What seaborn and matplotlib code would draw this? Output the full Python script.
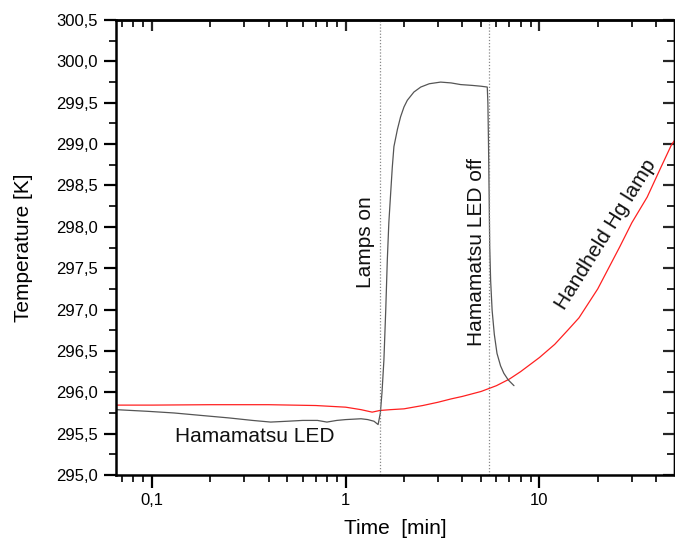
import matplotlib
matplotlib.use("Agg")
import matplotlib.pyplot as plt
import matplotlib.ticker as mticker
import numpy as np
import pandas as pd
import seaborn as sns

# ---- data ----
hg_time = [0.0653, 0.1, 0.2, 0.4, 0.7, 1.0, 1.2, 1.37, 1.5, 1.7, 2.0, 2.5, 3.0,
           3.5, 4.0, 5.0, 6.0, 7.0, 8.0, 10.0, 12.0, 14.0, 16.0, 20.0, 26.0,
           30.0, 36.0, 42.0, 48.0, 50.0]
hg_temp = [295.845, 295.845, 295.85, 295.85, 295.84, 295.82, 295.79, 295.76,
           295.78, 295.79, 295.80, 295.84, 295.88, 295.92, 295.95, 296.01,
           296.08, 296.16, 296.25, 296.42, 296.58, 296.75, 296.90, 297.25,
           297.76, 298.05, 298.36, 298.70, 298.99, 299.05]

led_time = [0.0653, 0.095, 0.13, 0.18, 0.25, 0.33, 0.41, 0.5, 0.6, 0.715, 0.8,
            0.9, 1.0, 1.2, 1.3, 1.4, 1.47, 1.51, 1.54, 1.575, 1.61, 1.64, 1.67,
            1.706, 1.74, 1.774, 1.85, 1.92, 2.0, 2.08, 2.25, 2.44, 2.7, 3.09,
            3.5, 3.92, 4.5, 5.0, 5.38, 5.42, 5.46, 5.50, 5.54, 5.60, 5.70,
            5.85, 6.04, 6.3, 6.55, 6.9, 7.39]
led_temp = [295.79, 295.77, 295.75, 295.72, 295.69, 295.66, 295.64, 295.65,
            295.66, 295.66, 295.64, 295.66, 295.67, 295.68, 295.67, 295.65,
            295.61, 295.75, 296.0, 296.39, 297.0, 297.6, 298.05, 298.4, 298.72,
            298.97, 299.18, 299.33, 299.45, 299.53, 299.63, 299.69, 299.73,
            299.75, 299.74, 299.72, 299.71, 299.70, 299.69, 299.5, 299.0, 298.4,
            297.76, 297.35, 296.99, 296.7, 296.47, 296.32, 296.23, 296.15,
            296.08]

event_times = [1.51, 5.46]
x_label = "Time  [min]"
y_label = "Temperature [K]"

sns.set_theme(style="ticks")
plt.rcParams['font.family'] = ['Liberation Sans', 'DejaVu Sans']

fig = plt.figure(figsize=(6.75, 5.42), dpi=100)
ax = fig.add_axes([0.172, 0.1236, 0.8265, 0.8394])

df_hg = pd.DataFrame({"t": hg_time, "T": hg_temp})
df_led = pd.DataFrame({"t": led_time, "T": led_temp})
sns.lineplot(data=df_hg, x="t", y="T", ax=ax, color="#ff2020", lw=0.9,
             estimator=None, sort=False)
sns.lineplot(data=df_led, x="t", y="T", ax=ax, color="#555555", lw=0.9,
             estimator=None, sort=False)
for et in event_times:
    ax.axvline(et, color="#888888", lw=0.9, ls=(0, (1, 1.5)))

ax.set_xscale("log")
ax.set_xlim(0.0653, 49.5)
ax.set_ylim(295.0, 300.5)

ax.yaxis.set_major_locator(mticker.MultipleLocator(0.5))
ax.yaxis.set_minor_locator(mticker.MultipleLocator(0.25))
ax.yaxis.set_major_formatter(mticker.FuncFormatter(lambda v, p: f"{v:.1f}".replace('.', ',')))
ax.xaxis.set_major_locator(mticker.LogLocator(base=10))
ax.xaxis.set_minor_locator(mticker.LogLocator(base=10, subs=np.arange(2, 10)))
ax.xaxis.set_major_formatter(mticker.FuncFormatter(lambda v, p: f"{v:g}".replace('.', ',')))
ax.xaxis.set_minor_formatter(mticker.NullFormatter())

for s in ax.spines.values():
    s.set_linewidth(1.8)
    s.set_color("black")
ax.spines['right'].set_linewidth(1.0)

ax.tick_params(axis='both', which='major', direction='out', length=9, width=1.6,
               labelsize=12, colors='black', pad=4)
ax.tick_params(axis='both', which='minor', direction='out', length=5, width=1.4)
ax.tick_params(top=False, right=False, which='both')

# inward ticks on top/right
secx = ax.secondary_xaxis('top')
secx.xaxis.set_major_locator(mticker.LogLocator(base=10))
secx.xaxis.set_minor_locator(mticker.LogLocator(base=10, subs=np.arange(2, 10)))
secx.tick_params(which='major', direction='in', length=8, width=1.6, labeltop=False)
secx.tick_params(which='minor', direction='in', length=5, width=1.4)
secx.xaxis.set_major_formatter(mticker.NullFormatter())
secx.xaxis.set_minor_formatter(mticker.NullFormatter())
secx.spines['top'].set_linewidth(1.8)
secy = ax.secondary_yaxis('right')
secy.yaxis.set_major_locator(mticker.MultipleLocator(0.5))
secy.yaxis.set_minor_locator(mticker.MultipleLocator(0.25))
secy.tick_params(which='major', direction='in', length=8, width=1.6, labelright=False)
secy.tick_params(which='minor', direction='in', length=5, width=1.4)
secy.yaxis.set_major_formatter(mticker.NullFormatter())
secy.spines['right'].set_linewidth(1.0)

ax.set_xlabel(x_label, fontsize=15, color='black', labelpad=8)
ax.set_ylabel(y_label, fontsize=15, color='black', labelpad=17)

ax.text(0.34, 295.47, "Hamamatsu LED", fontsize=15, ha='center', va='center', color='#111111')
ax.text(1.27, 297.82, "Lamps on", fontsize=15, rotation=90, ha='center', va='center', color='#111111')
ax.text(4.75, 297.7, "Hamamatsu LED off", fontsize=15, rotation=90, ha='center', va='center', color='#111111')
ax.text(22.0, 297.91, "Handheld Hg lamp", fontsize=15, rotation=58, ha='center', va='center',
        rotation_mode='anchor', color='#111111')

fig.savefig("out.png", dpi=100)
